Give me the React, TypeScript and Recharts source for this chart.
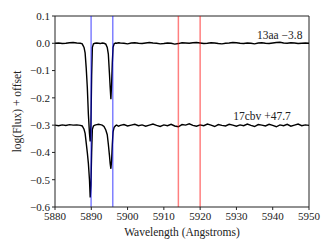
import React from 'react';
import {
  LineChart,
  Line,
  XAxis,
  YAxis,
  ReferenceLine,
  ReferenceDot,
  Label,
} from 'recharts';

// wavelength grid (Angstroms), finer around the Na D lines
const wavelengths = [
  5880, 5881, 5882, 5883, 5884, 5885, 5886, 5887,
  5887.5, 5888, 5888.3, 5888.6, 5888.9, 5889.2, 5889.5, 5889.7, 5889.9, 5890.1,
  5890.3, 5890.6, 5891, 5891.5, 5892, 5892.5, 5893, 5893.5, 5894, 5894.4,
  5894.7, 5895, 5895.2, 5895.4, 5895.6, 5895.8, 5896, 5896.3, 5896.7, 5897, 5897.5,
  5898, 5899, 5900, 5901, 5902, 5903, 5904, 5905, 5906, 5907,
  5908, 5909, 5910, 5911, 5912, 5913, 5914, 5915, 5916, 5917,
  5918, 5919, 5920, 5921, 5922, 5923, 5924, 5925, 5926, 5927,
  5928, 5929, 5930, 5931, 5932, 5933, 5934, 5935, 5936, 5937,
  5938, 5939, 5940, 5941, 5942, 5943, 5944, 5945, 5946, 5947,
  5948, 5949, 5950,
];

// SN 2013aa, -3.8 d (no offset)
const flux13aa = [
  0.000, 0.001, -0.001, 0.000, 0.002, 0.003, 0.001, 0.000,
  -0.002, -0.015, -0.035, -0.09, -0.16, -0.26, -0.33, -0.36, -0.30, -0.12,
  -0.015, -0.002, 0.000, 0.001, 0.000, -0.001, 0.001, 0.000, -0.003, -0.015,
  -0.04, -0.11, -0.16, -0.205, -0.15, -0.07, -0.015, -0.002, 0.001, 0.000, 0.002,
  0.001, 0.000, -0.002, 0.001, 0.002, 0.000, -0.001, 0.001, 0.003, 0.001,
  0.000, -0.002, -0.001, 0.001, 0.000, -0.003, -0.001, 0.002, 0.001, 0.000,
  0.002, 0.003, 0.001, -0.001, 0.000, 0.002, 0.001, -0.001, -0.002, 0.000,
  0.001, 0.003, 0.002, 0.000, -0.001, 0.001, 0.000, -0.002, 0.001, 0.002,
  0.000, -0.001, 0.001, 0.003, 0.004, 0.001, 0.000, 0.002, 0.001, -0.001,
  0.000, 0.001, 0.000,
];

// SN 2017cbv, +47.7 d (offset -0.3)
const flux17cbv = [
  -0.300, -0.302, -0.299, -0.301, -0.298, -0.300, -0.299, -0.301,
  -0.303, -0.315, -0.330, -0.365, -0.40, -0.44, -0.50, -0.565, -0.52, -0.40,
  -0.315, -0.303, -0.300, -0.298, -0.297, -0.298, -0.300, -0.305, -0.318, -0.335,
  -0.37, -0.41, -0.44, -0.46, -0.43, -0.37, -0.325, -0.308, -0.302, -0.300, -0.304,
  -0.301, -0.298, -0.303, -0.300, -0.297, -0.302, -0.299, -0.304, -0.300, -0.296,
  -0.301, -0.305, -0.299, -0.302, -0.297, -0.303, -0.306, -0.298, -0.300, -0.295,
  -0.301, -0.304, -0.299, -0.302, -0.296, -0.300, -0.305, -0.298, -0.301, -0.303,
  -0.297, -0.300, -0.304, -0.299, -0.302, -0.296, -0.301, -0.305, -0.298, -0.300,
  -0.303, -0.297, -0.301, -0.306, -0.299, -0.302, -0.297, -0.304, -0.300, -0.296,
  -0.302, -0.299, -0.301,
];

const xTicks = [5880, 5890, 5900, 5910, 5920, 5930, 5940, 5950];
const yTicks = [0.1, 0.0, -0.1, -0.2, -0.3, -0.4, -0.5, -0.6];

const naLines = [5889.95, 5895.92];
const redLines = [5914, 5920];

const FONT = '"Liberation Serif", "DejaVu Serif", serif';

const data = wavelengths.map((w, i) => ({
  wave: w,
  a: flux13aa[i],
  b: flux17cbv[i],
}));

const fmtY = (v: number) => (v < 0 ? '\u2212' + Math.abs(v).toFixed(1) : v.toFixed(1));

const textLabel = (text: string) => (props: any) => {
  const vb = props.viewBox || {};
  return (
    <text
      x={vb.x}
      y={vb.y}
      textAnchor="end"
      dominantBaseline="central"
      style={{ fontFamily: FONT, fontSize: 11.5 }}
      fill="#222"
    >
      {text}
    </text>
  );
};

export default function App() {
  return (
    <div
      style={{ position: 'fixed', left: 0, top: 0, background: '#fff', fontFamily: FONT }}
    >
      <LineChart
        width={332}
        height={249}
        data={data}
        margin={{ top: 16, right: 23, bottom: 0, left: 0 }}
        style={{ fontFamily: FONT }}
      >
        <XAxis
          dataKey="wave"
          type="number"
          domain={[5880, 5950]}
          ticks={xTicks}
          allowDataOverflow
          height={42}
          stroke="#222"
          tickSize={3}
          tick={{ fill: '#222', fontSize: 11, style: { fontFamily: FONT } }}
        >
          <Label
            value="Wavelength (Angstroms)"
            position="insideBottom"
            offset={13}
            style={{ fill: '#222', fontSize: 11.5, fontFamily: FONT }}
          />
        </XAxis>
        <YAxis
          type="number"
          domain={[-0.6, 0.1]}
          ticks={yTicks}
          allowDataOverflow
          width={55}
          stroke="#222"
          tickSize={3}
          tickFormatter={fmtY}
          tick={{ fill: '#222', fontSize: 11, style: { fontFamily: FONT } }}
        >
          <Label
            content={(props: any) => {
              const vb = props.viewBox || {};
              const cx = 17;
              const cy = vb.y + vb.height / 2;
              return (
                <text
                  x={cx}
                  y={cy}
                  transform={`rotate(-90, ${cx}, ${cy})`}
                  textAnchor="middle"
                  dominantBaseline="central"
                  style={{ fontFamily: FONT, fontSize: 11.5 }}
                  fill="#222"
                >
                  log(Flux) + offset
                </text>
              );
            }}
          />
        </YAxis>
        <ReferenceLine y={0.1} stroke="#222" />
        <ReferenceLine x={5950} stroke="#222" />
        <Line
          type="linear"
          dataKey="a"
          stroke="#000"
          strokeWidth={1.4}
          dot={false}
          isAnimationActive={false}
        />
        <Line
          type="linear"
          dataKey="b"
          stroke="#000"
          strokeWidth={1.4}
          dot={false}
          isAnimationActive={false}
        />
        {naLines.map((x) => (
          <ReferenceLine key={x} x={x} stroke="rgba(0,0,255,0.5)" strokeWidth={1.5} />
        ))}
        {redLines.map((x) => (
          <ReferenceLine key={x} x={x} stroke="rgba(255,0,0,0.5)" strokeWidth={1.5} />
        ))}
        <ReferenceDot
          x={5948.2}
          y={0.03}
          r={0}
          stroke="none"
          fill="none"
          label={textLabel('13aa \u22123.8')}
        />
        <ReferenceDot
          x={5945}
          y={-0.268}
          r={0}
          stroke="none"
          fill="none"
          label={textLabel('17cbv +47.7')}
        />
      </LineChart>
    </div>
  );
}
